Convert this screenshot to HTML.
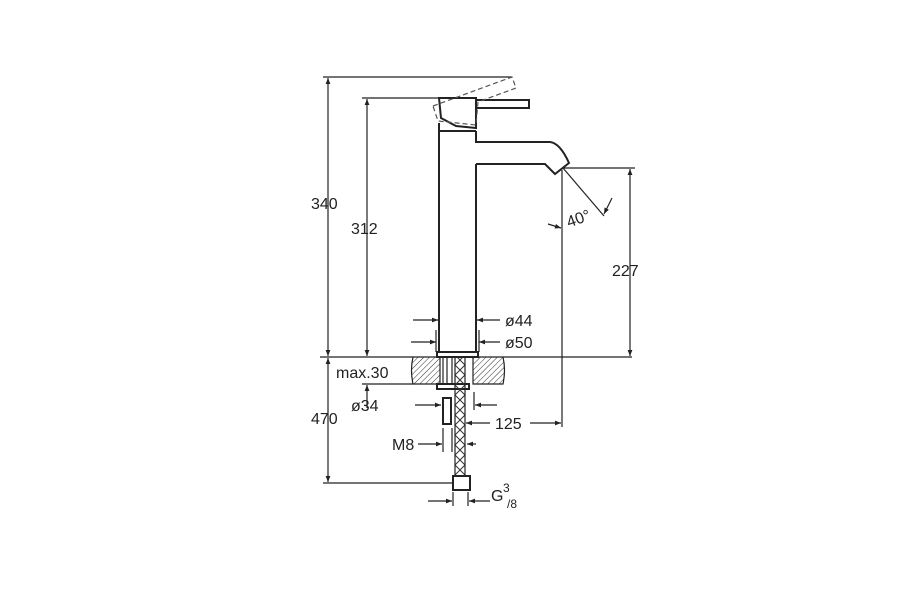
<!DOCTYPE html>
<html><head><style>body{margin:0;background:#fff}svg{display:block}text{font-family:"Liberation Sans",sans-serif;font-size:16px;fill:#222}</style></head><body>
<svg width="900" height="600" viewBox="0 0 900 600" xmlns="http://www.w3.org/2000/svg">
<defs>
<marker id="a" viewBox="0 0 10 10" refX="10" refY="5" markerWidth="9" markerHeight="6" orient="auto-start-reverse" markerUnits="userSpaceOnUse"><path d="M0,1 L10,5 L0,9z" fill="#222"/></marker>
<pattern id="h" width="4" height="4" patternUnits="userSpaceOnUse" patternTransform="rotate(45)"><line x1="0" y1="0" x2="0" y2="4" stroke="#333" stroke-width="1"/></pattern>
<pattern id="x" width="10" height="10" patternUnits="userSpaceOnUse"><path d="M0,0L10,10M10,0L0,10" stroke="#333" stroke-width="1"/></pattern>
</defs>
<g stroke="#222" fill="none" stroke-width="1.2">
<line x1="323" y1="77" x2="512" y2="77"/>
<line x1="362" y1="98" x2="439" y2="98"/>
<line x1="320" y1="357" x2="413" y2="357"/>
<line x1="503" y1="357" x2="632" y2="357"/>
<line x1="362" y1="384" x2="413" y2="384"/>
<line x1="323" y1="483" x2="452" y2="483"/>
<line x1="563" y1="168" x2="635" y2="168"/>
<line x1="562" y1="170" x2="562" y2="427"/>
<line x1="563" y1="168" x2="604" y2="216"/>
<line x1="328" y1="78" x2="328" y2="356" marker-start="url(#a)" marker-end="url(#a)"/>
<line x1="328" y1="358" x2="328" y2="482" marker-start="url(#a)" marker-end="url(#a)"/>
<line x1="367" y1="99" x2="367" y2="356" marker-start="url(#a)" marker-end="url(#a)"/>
<line x1="367" y1="385" x2="367" y2="408" marker-start="url(#a)"/>
<line x1="630" y1="169" x2="630" y2="356" marker-start="url(#a)" marker-end="url(#a)"/>
<line x1="413" y1="320" x2="438" y2="320" marker-end="url(#a)"/>
<line x1="500" y1="320" x2="477" y2="320" marker-end="url(#a)"/>
<line x1="411" y1="342" x2="436" y2="342" marker-end="url(#a)"/>
<line x1="500" y1="342" x2="479" y2="342" marker-end="url(#a)"/>
<line x1="436" y1="330" x2="436" y2="352"/><line x1="479" y1="330" x2="479" y2="352"/>
<line x1="415" y1="405" x2="441" y2="405" marker-end="url(#a)"/>
<line x1="497" y1="405" x2="475" y2="405" marker-end="url(#a)"/>
<line x1="474" y1="392" x2="474" y2="410"/>
<line x1="490" y1="423" x2="466" y2="423" marker-end="url(#a)"/>
<line x1="530" y1="423" x2="561" y2="423" marker-end="url(#a)"/>
<line x1="418" y1="444" x2="442" y2="444" marker-end="url(#a)"/>
<line x1="443" y1="428" x2="443" y2="452"/><line x1="452" y1="428" x2="452" y2="452"/>
<line x1="476" y1="444" x2="467" y2="444" marker-end="url(#a)"/>
<line x1="428" y1="501" x2="452" y2="501" marker-end="url(#a)"/>
<line x1="490" y1="501" x2="469" y2="501" marker-end="url(#a)"/>
<line x1="453" y1="492" x2="453" y2="506"/><line x1="468" y1="492" x2="468" y2="506"/>
<line x1="548" y1="224" x2="561" y2="228" marker-end="url(#a)"/>
<line x1="612" y1="198" x2="604" y2="214" marker-end="url(#a)"/>
<g stroke-width="2">
<path d="M439,131 V353 M476,164 V353"/>
<path d="M476,131 V142 H550 Q560,143 569,163 L555,174 L545,164 H476"/>
<path d="M439,98 H476 V128 L456,126 L441,118 Z"/>
<path d="M439,123 V131 H476"/>
<rect x="476" y="100" width="53" height="8"/>
<rect x="437" y="352" width="41" height="5"/>
<rect x="437" y="384" width="32" height="5"/>
<rect x="443" y="398" width="8" height="26"/>
<rect x="453" y="476" width="17" height="14"/>
</g>
<path d="M433,106 L512,77 L516,88 L478,102 L476,125 L438,121 Z" stroke="#555" stroke-dasharray="5,3"/>
<path d="M413,357 H440 V384 H413 Q410,370 413,357Z" fill="url(#h)"/>
<path d="M473,357 H503 Q506,370 503,384 H473Z" fill="url(#h)"/>
<line x1="443" y1="357" x2="443" y2="384"/><line x1="447" y1="357" x2="447" y2="384"/><line x1="452" y1="357" x2="452" y2="384"/>
<rect x="455" y="357" width="10" height="119" fill="url(#x)"/>
</g>
<text x="311" y="209">340</text>
<text x="351" y="234">312</text>
<text x="311" y="424">470</text>
<text x="612" y="276">227</text>
<text x="336" y="378">max.30</text>
<text x="351" y="411">ø34</text>
<text x="505" y="326">ø44</text>
<text x="505" y="348">ø50</text>
<text x="495" y="429">125</text>
<text x="392" y="450">M8</text>
<text x="491" y="501">G</text><text x="503" y="492" style="font-size:12px">3</text><text x="507" y="508" style="font-size:12px">/8</text>
<text x="566" y="225" transform="rotate(-20 575 218)">40°</text>
</svg>
</body></html>
